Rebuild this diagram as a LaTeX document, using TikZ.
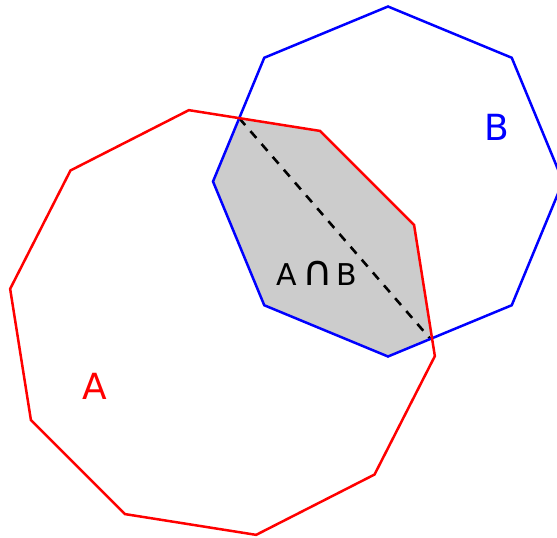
\documentclass[tikz,border=0pt]{standalone}
\usepackage{fontspec}
\setmainfont{DejaVu Sans}
\usetikzlibrary{calc}
\begin{document}
\begin{tikzpicture}[x=1pt,y=-1pt,
  redpoly/.style={draw=red,line width=2.5pt,line join=miter},
  bluepoly/.style={draw=blue,line width=2.5pt,line join=miter},
  lbl/.style={font=\fontsize{36}{36}\selectfont,inner sep=0pt},
  dashline/.style={draw=black,line width=2.6pt,dash pattern=on 9pt off 8pt}]
\useasboundingbox (0,0) rectangle (557,538);
% polygon vertices
\foreach \k in {0,...,9}{
  \coordinate (r\k) at ($(222.5,322.5)+({215*cos(99-36*\k)},{-215*sin(99-36*\k)})$);
}
\foreach \k in {0,...,7}{
  \coordinate (b\k) at ($(388,181.5)+({175*cos(90+45*\k)},{-175*sin(90+45*\k)})$);
}
% intersection fill
\begin{scope}
  \clip (r0)--(r1)--(r2)--(r3)--(r4)--(r5)--(r6)--(r7)--(r8)--(r9)--cycle;
  \fill[black!20] (b0)--(b1)--(b2)--(b3)--(b4)--(b5)--(b6)--(b7)--cycle;
\end{scope}
\coordinate (p1) at (239.3,118.3);
\coordinate (p2) at (430.7,339.3);
\draw[dashline] (p1) -- (p2);
\draw[bluepoly] (b0)--(b1)--(b2)--(b3)--(b4)--(b5)--(b6)--(b7)--cycle;
\draw[redpoly] (r0)--(r1)--(r2)--(r3)--(r4)--(r5)--(r6)--(r7)--(r8)--(r9)--cycle;
\node[lbl,text=red] (la) at (95,386) {A};
\node[lbl,text=blue] (lb) at (497,127) {B};
\node[lbl,font=\fontsize{30}{30}\selectfont] (lab) at (317,273) {A\hspace{5pt}\scalebox{1.4}{∩}\hspace{4pt}B};
\end{tikzpicture}
\end{document}
